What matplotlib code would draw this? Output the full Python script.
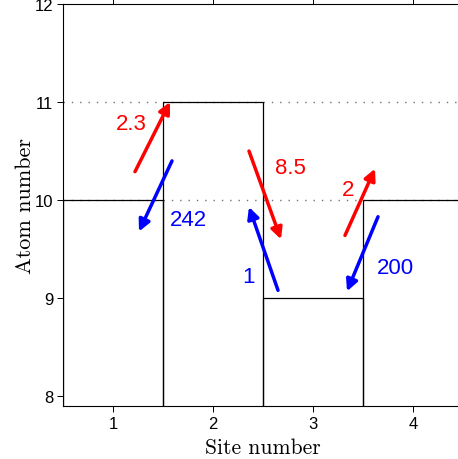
import matplotlib.pyplot as plt
import numpy as np

# occupation of each lattice site
sites = [1, 2, 3, 4]
atoms = [10, 11, 9, 10]
levels = [10, 11]

# hopping arrows: (tail x, tail y, head x, head y), label, label position
red_arrows = [(1.22, 10.29, 1.57, 11.0), (2.36, 10.50, 2.68, 9.60), (3.32, 9.64, 3.62, 10.32)]
red_labels = ["2.3", "8.5", "2"]
red_label_pos = [(1.18, 10.78), (2.77, 10.33), (3.35, 10.11)]

blue_arrows = [(1.59, 10.40, 1.26, 9.68), (2.65, 9.08, 2.36, 9.93), (3.65, 9.83, 3.34, 9.07)]
blue_labels = ["242", "1", "200"]
blue_label_pos = [(1.75, 9.80), (2.35, 9.22), (3.82, 9.31)]


def main():
    fig = plt.figure(figsize=(4.58, 4.60), dpi=100)
    ax = fig.add_axes([63 / 458, 1 - 407 / 460, 400 / 458, 402 / 460])

    for lvl in levels:
        ax.axhline(lvl, color="0.45", lw=1.0, ls=(0, (1, 5)), zorder=1)

    ax.bar(sites, atoms, width=1.0, fill=False, edgecolor="black", lw=0.9, zorder=2)

    for (x0, y0, x1, y1), txt, (tx, ty) in zip(red_arrows, red_labels, red_label_pos):
        ax.annotate("", xy=(x1, y1), xytext=(x0, y0),
                    arrowprops=dict(arrowstyle="-|>", color="red", lw=2.5,
                                    mutation_scale=17, shrinkA=0, shrinkB=0), zorder=3)
        ax.text(tx, ty, txt, color="red", fontsize=16, ha="center", va="center",
                family="Liberation Sans")

    for (x0, y0, x1, y1), txt, (tx, ty) in zip(blue_arrows, blue_labels, blue_label_pos):
        ax.annotate("", xy=(x1, y1), xytext=(x0, y0),
                    arrowprops=dict(arrowstyle="-|>", color="blue", lw=2.5,
                                    mutation_scale=17, shrinkA=0, shrinkB=0), zorder=3)
        ax.text(tx, ty, txt, color="blue", fontsize=16, ha="center", va="center",
                family="Liberation Sans")

    ax.set_xlim(0.5, 4.5)
    ax.set_ylim(7.9, 12)
    ax.set_xticks(sites)
    ax.set_yticks([8, 9, 10, 11, 12])
    ax.tick_params(direction="out", top=True, right=True, length=4, width=0.7,
                   labelsize=12, pad=3)
    for lab in ax.get_xticklabels() + ax.get_yticklabels():
        lab.set_family("Liberation Sans")
    for sp in ax.spines.values():
        sp.set_linewidth(0.8)

    ax.set_xlabel("Site number", fontsize=15.5, family="cmr10", labelpad=5)
    ax.set_ylabel("Atom number", fontsize=16, family="cmr10", labelpad=0)

    fig.savefig("out.png", dpi=100)


if __name__ == "__main__":
    main()
